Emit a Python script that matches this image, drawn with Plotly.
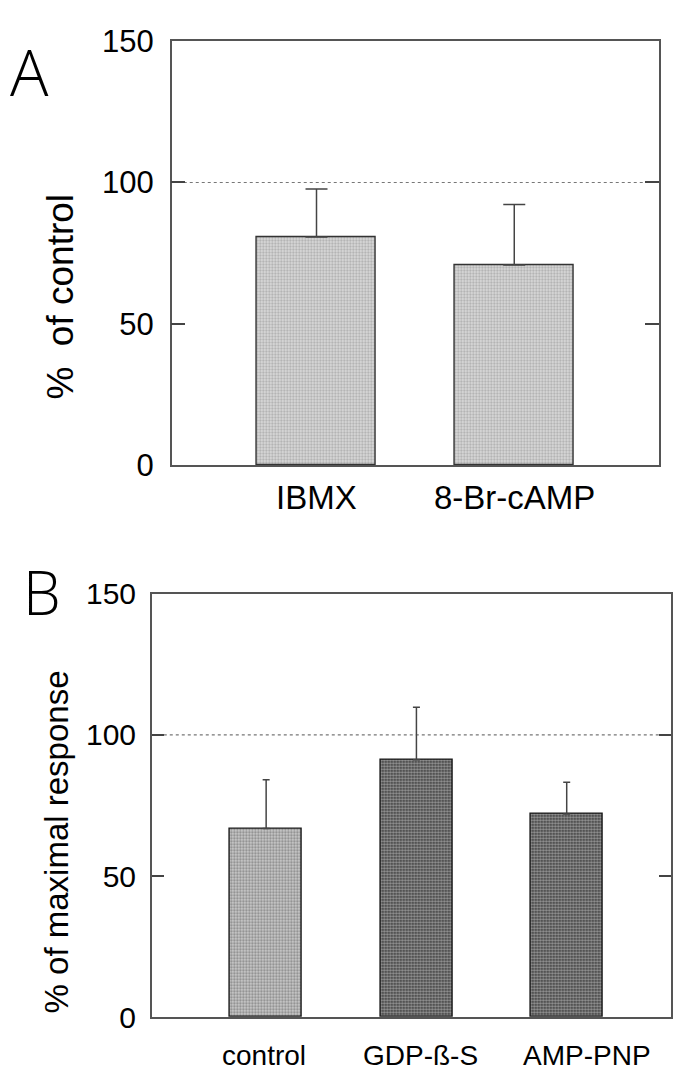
import plotly.graph_objects as go

# Panel A data
cats_a = ["IBMX", "8-Br-cAMP"]
vals_a = [80.7, 70.8]
errs_a = [17.0, 21.4]

# Panel B data
cats_b = ["control", "GDP-ß-S", "AMP-PNP"]
vals_b = [66.9, 91.2, 72.0]
errs_b = [17.2, 18.6, 11.2]

ytick_vals = [0, 50, 100, 150]
ref_level = 100

W, H = 673, 1087
FONT = "Liberation Sans, Arial, sans-serif"
light_pat = dict(shape=".", bgcolor="#dedede", fgcolor="#777777", size=3, solidity=0.45)

fig = go.Figure()

fig.add_trace(go.Bar(
    x=cats_a, y=vals_a, xaxis="x", yaxis="y", width=0.6,
    marker=dict(color="#cccccc", pattern=light_pat, line=dict(color="#333333", width=1.4)),
    error_y=dict(type="data", array=errs_a, arrayminus=[0] * len(errs_a), symmetric=False,
                 color="#444444", thickness=1.5, width=11),
    showlegend=False,
))

fig.add_trace(go.Bar(
    x=cats_b, y=vals_b, xaxis="x2", yaxis="y2", width=0.48,
    marker=dict(color=["#cccccc", "#333333", "#333333"],
                pattern=dict(shape=".", size=3,
                             bgcolor=["#dedede", "#484848", "#484848"],
                             fgcolor=["#777777", "#000000", "#000000"],
                             solidity=[0.45, 0.6, 0.6]),
                line=dict(color="#1a1a1a", width=1.4)),
    error_y=dict(type="data", array=errs_b, arrayminus=[0] * len(errs_b), symmetric=False,
                 color="#444444", thickness=1.5, width=3.5),
    showlegend=False,
))

axis_line = dict(showline=True, linecolor="#555555", linewidth=1.5, mirror=True,
                 showgrid=False, zeroline=False)

fig.update_layout(
    width=W, height=H, autosize=False,
    margin=dict(l=0, r=0, t=0, b=0),
    paper_bgcolor="white", plot_bgcolor="white",
    font=dict(family=FONT, color="black"),
    bargap=0,
    xaxis=dict(domain=[172 / W, 660 / W], anchor="y", range=[-0.732, 1.732],
               showticklabels=False, ticks="", **axis_line),
    yaxis=dict(domain=[(H - 463) / H, (H - 25) / H], anchor="x", range=[0, 150],
               tickvals=ytick_vals, ticks="inside", ticklen=14, tickwidth=1.5, tickcolor="#444444",
               tickfont=dict(size=31, family=FONT), ticklabelstandoff=10, **{**axis_line, "mirror": "ticks"}),
    xaxis2=dict(domain=[152 / W, 672 / W], anchor="y2", range=[-0.761, 2.694],
                showticklabels=False, ticks="", **axis_line),
    yaxis2=dict(domain=[(H - 1033.5) / H, (H - 596) / H], anchor="x2", range=[0, 150],
                tickvals=ytick_vals, ticks="inside", ticklen=12, tickwidth=1.5, tickcolor="#444444",
                tickfont=dict(size=30, family=FONT), ticklabelstandoff=8, **{**axis_line, "mirror": "ticks"}),
)

# reference dotted line at 100
for xr, yr in (("x", "y"), ("x2", "y2")):
    fig.add_shape(type="line", xref=f"{xr} domain", yref=yr, x0=0, x1=1, y0=ref_level, y1=ref_level,
                  line=dict(color="#777777", width=1.2, dash="dot"), layer="below")

ann = []
# category labels
for c in cats_a:
    ann.append(dict(x=c, xref="x", y=(H - 497) / H, yref="paper", text=c, showarrow=False,
                    xshift=0, font=dict(size=33, family=FONT), yanchor="middle"))
for c, xs in zip(cats_b, [-2, 4, 20]):
    ann.append(dict(x=c, xref="x2", y=(H - 1073) / H, yref="paper", text=c, showarrow=False,
                    xshift=xs, font=dict(size=28, family=FONT), yanchor="middle"))
# y titles
ann.append(dict(x=61 / W, y=(H - 289) / H, xref="paper", yref="paper", text="%\u00a0 of control",
                textangle=-90, showarrow=False, font=dict(size=37, family=FONT),
                xanchor="center", yanchor="middle"))
ann.append(dict(x=57 / W, y=(H - 852) / H, xref="paper", yref="paper", text="% of maximal response",
                textangle=-90, showarrow=False, font=dict(size=33, family=FONT),
                xanchor="center", yanchor="middle"))
# panel letters
ann.append(dict(x=30 / W, y=(H - 56) / H, xref="paper", yref="paper", text="A", showarrow=False,
                font=dict(size=64, family="Open Sans, sans-serif", weight=300),
                xanchor="center", yanchor="middle"))
ann.append(dict(x=42 / W, y=(H - 594) / H, xref="paper", yref="paper", text="B", showarrow=False,
                font=dict(size=60, family="Open Sans, sans-serif", weight=300),
                xanchor="center", yanchor="middle"))
fig.update_layout(annotations=ann)

fig.write_html("out.html")
